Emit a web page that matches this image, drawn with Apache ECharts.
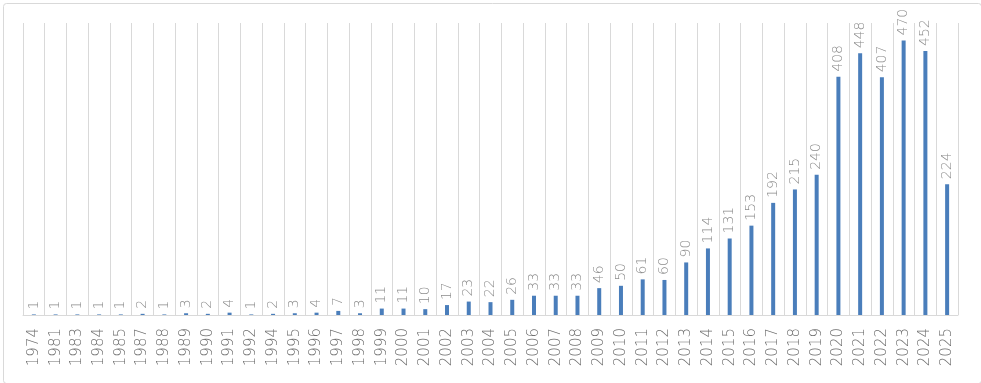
<!DOCTYPE html>
<html>
<head>
<meta charset="utf-8">
<script src="https://cdn.jsdelivr.net/npm/echarts@6/dist/echarts.min.js"></script>
<style>html,body{margin:0;padding:0;background:#fff}#c{width:981px;height:383px}</style>
</head>
<body>
<div id="c"></div>
<script>
const years = ['1974','1981','1983','1984','1985','1987','1988','1989','1990','1991','1992','1994','1995','1996','1997','1998','1999','2000','2001','2002','2003','2004','2005','2006','2007','2008','2009','2010','2011','2012','2013','2014','2015','2016','2017','2018','2019','2020','2021','2022','2023','2024','2025'];
const counts = [1,1,1,1,1,2,1,3,2,4,1,2,3,4,7,3,11,11,10,17,23,22,26,33,33,33,46,50,61,60,90,114,131,153,192,215,240,408,448,407,470,452,224];

const chart = echarts.init(document.getElementById('c'), null, {renderer: 'canvas'});
chart.setOption({
  animation: false,
  backgroundColor: '#fff',
  graphic: [{
    type: 'rect', left: 1, top: 1,
    shape: {width: 978, height: 380, r: 3},
    style: {fill: 'none', stroke: '#d9d9d9', lineWidth: 1}
  }],
  grid: {left: 23, right: 23, top: 23, bottom: 68},
  xAxis: {
    type: 'category',
    data: years,
    boundaryGap: true,
    axisLine: {show: true, lineStyle: {color: '#d9d9d9'}},
    axisTick: {show: false},
    splitLine: {show: true, lineStyle: {color: '#d9d9d9', width: 1}},
    axisLabel: {rotate: 90, margin: 13, color: '#6f6f6f', fontSize: 15, fontWeight: 200, fontFamily: 'DejaVu Sans', interval: 0}
  },
  yAxis: {
    type: 'value', min: 0, max: 500, interval: 100,
    show: false, splitLine: {show: false}
  },
  series: [{
    type: 'bar',
    data: counts,
    barWidth: 4,
    itemStyle: {color: '#4a7ebb'},
    label: {
      show: true, position: 'top', rotate: 90, align: 'left', verticalAlign: 'middle',
      distance: 5, color: '#8c8c8c', fontSize: 14, fontWeight: 200, fontFamily: 'DejaVu Sans'
    }
  }]
});
</script>
</body>
</html>
